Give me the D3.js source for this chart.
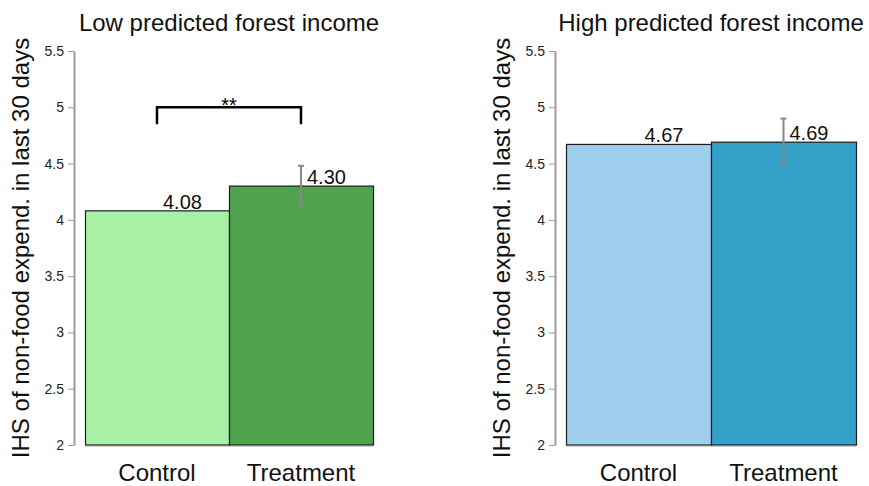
<!DOCTYPE html>
<html>
<head>
<meta charset="utf-8">
<script src="https://cdn.jsdelivr.net/npm/d3@7"></script>
<style>
  html, body { margin: 0; padding: 0; background: #fff; }
  svg { display: block; font-family: "Liberation Sans", Arial, Helvetica, sans-serif; }
</style>
</head>
<body>
<svg id="chart" width="869" height="486"></svg>
<script>
// ---- data ----
const panelTitles = ["Low predicted forest income", "High predicted forest income"];
const categories = ["Control", "Treatment"];
const lowValues = [4.08, 4.30];
const highValues = [4.67, 4.69];
const lowErrLow = [null, 4.12];
const lowErrHigh = [null, 4.48];
const highErrLow = [null, 4.49];
const highErrHigh = [null, 4.90];
const yTicks = [2, 2.5, 3, 3.5, 4, 4.5, 5, 5.5];
const yTitle = "IHS of non-food expend. in last 30 days";
const sigLabel = "**";
const sigLevel = 5.0;
const sigLegEnd = 4.85;

// ---- layout / style ----
const svg = d3.select("#chart");
const y = d3.scaleLinear().domain([2, 5.5]).range([445, 51]);
const panels = [
  { title: panelTitles[0], values: lowValues, lo: lowErrLow, hi: lowErrHigh,
    axisX: 74, range: [85, 373], colors: ["#a8f0a6", "#4fa34e"], sig: true },
  { title: panelTitles[1], values: highValues, lo: highErrLow, hi: highErrHigh,
    axisX: 555, range: [566, 856], colors: ["#9ecfec", "#35a1c9"], sig: false }
];

panels.forEach(p => {
  const g = svg.append("g");
  const x = d3.scaleBand().domain(categories).range(p.range).padding(0);

  // title
  g.append("text")
    .attr("x", (p.range[0] + p.range[1]) / 2)
    .attr("y", 31)
    .attr("text-anchor", "middle")
    .style("font-size", "24px")
    .attr("fill", "#111")
    .text(p.title);

  // y axis
  const axis = d3.axisLeft(y).tickValues(yTicks).tickFormat(d => String(d))
    .tickSize(6).tickSizeOuter(0).tickPadding(4);
  const ag = g.append("g").attr("transform", `translate(${p.axisX},0)`).call(axis);
  ag.attr("font-size", null).attr("font-family", null);
  ag.select(".domain").attr("stroke", "#9a9a9a").attr("stroke-width", 2);
  ag.selectAll(".tick line").attr("stroke", "#9a9a9a").attr("stroke-width", 1);
  ag.selectAll(".tick text").attr("fill", "#222")
    .style("font-size", "14px")
    .style("font-family", "'Liberation Sans', Arial, sans-serif");

  // y title
  g.append("text")
    .attr("transform", `translate(${p.axisX - 45},${(y(2) + y(5.5)) / 2}) rotate(-90)`)
    .attr("text-anchor", "middle")
    .style("font-size", "24px")
    .attr("fill", "#111")
    .text(yTitle);

  // baseline
  g.append("line")
    .attr("x1", p.range[0]).attr("x2", p.range[1])
    .attr("y1", y(2) + 1.5).attr("y2", y(2) + 1.5)
    .attr("stroke", "#cfcfcf").attr("stroke-width", 1);

  // bars
  g.selectAll("rect.bar").data(categories).join("rect")
    .attr("class", "bar")
    .attr("x", d => x(d) + 0.5)
    .attr("width", x.bandwidth())
    .attr("y", (d, i) => y(p.values[i]))
    .attr("height", (d, i) => y(2) - y(p.values[i]))
    .attr("fill", (d, i) => p.colors[i])
    .attr("stroke", "#1c1c1c")
    .attr("stroke-width", 1.2);

  // error bars
  categories.forEach((c, i) => {
    if (p.lo[i] == null) return;
    const cx = x(c) + x.bandwidth() / 2;
    const eg = g.append("g").attr("stroke", "#888").attr("stroke-width", 2);
    eg.append("line").attr("x1", cx).attr("x2", cx).attr("y1", y(p.lo[i])).attr("y2", y(p.hi[i]));
    eg.append("line").attr("x1", cx - 3).attr("x2", cx + 3).attr("y1", y(p.lo[i])).attr("y2", y(p.lo[i]));
    eg.append("line").attr("x1", cx - 3).attr("x2", cx + 3).attr("y1", y(p.hi[i])).attr("y2", y(p.hi[i]));
  });

  // value labels
  g.selectAll("text.val").data(categories).join("text")
    .attr("class", "val")
    .attr("x", d => x(d) + x.bandwidth() / 2 + 6)
    .attr("y", (d, i) => y(p.values[i]) - 2)
    .style("font-size", "20px")
    .attr("fill", "#111")
    .text((d, i) => p.values[i].toFixed(2));

  // x labels
  g.selectAll("text.cat").data(categories).join("text")
    .attr("class", "cat")
    .attr("x", d => x(d) + x.bandwidth() / 2)
    .attr("y", 481)
    .attr("text-anchor", "middle")
    .style("font-size", "24px")
    .attr("fill", "#111")
    .text(d => d);

  // significance bracket
  if (p.sig) {
    const x1 = x(categories[0]) + x.bandwidth() / 2;
    const x2 = x(categories[1]) + x.bandwidth() / 2;
    g.append("path")
      .attr("d", `M${x1},${y(sigLegEnd)}V${y(sigLevel)}H${x2}V${y(sigLegEnd)}`)
      .attr("fill", "none").attr("stroke", "#000").attr("stroke-width", 2.5);
    g.append("text")
      .attr("x", (x1 + x2) / 2)
      .attr("y", y(sigLevel) + 5)
      .attr("text-anchor", "middle")
      .style("font-size", "20px")
      .attr("fill", "#000")
      .text(sigLabel);
  }
});
</script>
</body>
</html>
